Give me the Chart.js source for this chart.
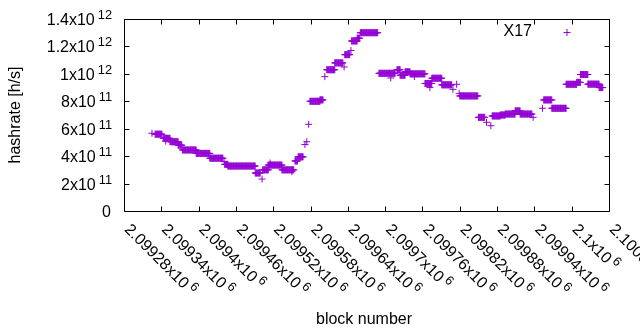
<!DOCTYPE html>
<html>
<head>
<meta charset="utf-8">
<script src="https://cdn.jsdelivr.net/npm/chart.js@4"></script>
<style>
html, body { margin: 0; padding: 0; background: #fff; }
canvas { display: block; }
</style>
</head>
<body>
<canvas id="hashChart" width="640" height="330"></canvas>
<script>
// runs of blocks that share the same hashrate
const runStart = [2099325, 2099330, 2099343, 2099347, 2099354, 2099367, 2099374, 2099396, 2099418, 2099441,
    2099442, 2099447, 2099491, 2099502, 2099503, 2099512, 2099515, 2099534, 2099550, 2099555,
    2099560, 2099571, 2099574, 2099577, 2099579, 2099595, 2099603, 2099606, 2099619, 2099634,
    2099635, 2099645, 2099646, 2099655, 2099660, 2099690, 2099709, 2099719, 2099724, 2099732,
    2099740, 2099747, 2099764, 2099772, 2099775, 2099791, 2099809, 2099815, 2099819, 2099820,
    2099850, 2099863, 2099870, 2099872, 2099885, 2099893, 2099909, 2099917, 2099938, 2099953,
    2099955, 2099968, 2099991, 2100008, 2100014, 2100026, 2100044];
const runEnd = [2099325, 2099341, 2099354, 2099347, 2099367, 2099373, 2099396, 2099418, 2099439, 2099441,
    2099447, 2099491, 2099499, 2099502, 2099512, 2099534, 2099515, 2099553, 2099550, 2099559,
    2099568, 2099571, 2099574, 2099577, 2099595, 2099600, 2099603, 2099619, 2099632, 2099634,
    2099643, 2099645, 2099655, 2099659, 2099688, 2099716, 2099709, 2099724, 2099732, 2099740,
    2099764, 2099747, 2099775, 2099772, 2099791, 2099807, 2099809, 2099815, 2099819, 2099849,
    2099860, 2099863, 2099870, 2099885, 2099893, 2099909, 2099917, 2099936, 2099938, 2099953,
    2099968, 2099991, 2100008, 2100014, 2100026, 2100044, 2100050];
const runHashrate = [5.67e11, 5.6e11, 5.3e11, 5.1e11, 5.05e11, 4.8e11, 4.45e11, 4.2e11, 3.85e11, 3.6e11,
    3.4e11, 3.28e11, 2.77e11, 2.33e11, 3.0e11, 3.35e11, 3.5e11, 3.0e11, 2.87e11, 3.65e11,
    3.95e11, 4.85e11, 5.05e11, 6.32e11, 8.0e11, 8.1e11, 9.8e11, 10.3e11, 10.8e11, 10.5e11,
    11.4e11, 11.7e11, 12.4e11, 12.6e11, 13.0e11, 10.04e11, 9.7e11, 10.3e11, 9.9e11, 10.15e11,
    10.0e11, 9.8e11, 9.3e11, 9.0e11, 9.68e11, 9.2e11, 8.87e11, 9.24e11, 8.58e11, 8.39e11,
    6.83e11, 6.47e11, 6.22e11, 6.93e11, 7.0e11, 7.07e11, 7.3e11, 7.07e11, 6.83e11, 7.49e11,
    8.1e11, 7.49e11, 9.24e11, 9.38e11, 9.95e11, 9.25e11, 9.0e11];

const xTickValues = [2099280, 2099340, 2099400, 2099460, 2099520, 2099580, 2099640,
    2099700, 2099760, 2099820, 2099880, 2099940, 2100000, 2100060];
const xTickLabels = ["2.09928", "2.09934", "2.0994", "2.09946", "2.09952", "2.09958", "2.09964",
    "2.0997", "2.09976", "2.09982", "2.09988", "2.09994", "2.1", "2.10006"];
const xTickPower = "6";

const yTickValues = [0, 2e11, 4e11, 6e11, 8e11, 1e12, 1.2e12, 1.4e12];
const yTickLabels = ["0", "2", "4", "6", "8", "1", "1.2", "1.4"];
const yTickPowers = ["", "11", "11", "11", "11", "12", "12", "12"];

const seriesName = "X17";

// one point per block inside each run
const points = [];
runStart.forEach((start, i) => {
    for (let b = start; b <= runEnd[i]; b++) {
        points.push({ x: b, y: runHashrate[i] });
    }
});

const purple = "#9400d3";
const font = "Liberation Sans, Arial, sans-serif";

function drawPowerLabel(ctx, mantissa, power, x, y, align) {
    ctx.font = "16px " + font;
    const wMain = ctx.measureText(mantissa === "0" ? "0" : mantissa + "x10").width;
    ctx.font = "12.8px " + font;
    const wSup = power ? ctx.measureText(power).width + 3 : 0;
    let left = align === "right" ? x - wMain - wSup : x;
    ctx.textAlign = "left";
    ctx.textBaseline = "alphabetic";
    ctx.font = "16px " + font;
    ctx.fillText(mantissa === "0" ? "0" : mantissa + "x10", left, y + 6);
    if (power) {
        ctx.font = "12.8px " + font;
        ctx.fillText(power, left + wMain + 3, y);
    }
}

const gnuplotFrame = {
    id: "gnuplotFrame",
    afterDraw(chart) {
        const ctx = chart.ctx;
        const a = chart.chartArea;
        const xs = chart.scales.x;
        const ys = chart.scales.y;
        const L = Math.round(a.left) + 0.5, R = Math.round(a.right) + 0.5;
        const T = Math.round(a.top) + 0.5, B = Math.round(a.bottom) + 0.5;
        ctx.save();
        ctx.strokeStyle = "#000";
        ctx.lineWidth = 1;
        ctx.beginPath();
        ctx.rect(L, T, R - L, B - T);
        // tics on all four sides, pointing inwards
        yTickValues.forEach(v => {
            const py = Math.round(ys.getPixelForValue(v)) + 0.5;
            ctx.moveTo(L, py); ctx.lineTo(L + 5, py);
            ctx.moveTo(R, py); ctx.lineTo(R - 5, py);
        });
        xTickValues.forEach(v => {
            const px = Math.round(xs.getPixelForValue(v)) + 0.5;
            ctx.moveTo(px, B); ctx.lineTo(px, B - 5);
            ctx.moveTo(px, T); ctx.lineTo(px, T + 5);
        });
        ctx.stroke();

        ctx.fillStyle = "#000";
        yTickValues.forEach((v, i) => {
            const py = ys.getPixelForValue(v);
            drawPowerLabel(ctx, yTickLabels[i], yTickPowers[i], i === 0 ? 111 : 112, py, "right");
        });
        xTickValues.forEach((v, i) => {
            const px = xs.getPixelForValue(v);
            ctx.save();
            ctx.translate(px + 4, a.bottom + 15);
            ctx.rotate(Math.PI / 4);
            drawPowerLabel(ctx, xTickLabels[i], xTickPower, 0, 0, "left");
            ctx.restore();
        });

        // axis titles
        ctx.font = "16px " + font;
        ctx.textAlign = "center";
        ctx.textBaseline = "middle";
        ctx.fillText("block number", 364, 320);
        ctx.save();
        ctx.translate(16, 115);
        ctx.rotate(-Math.PI / 2);
        ctx.fillText("hashrate [h/s]", 0, 0);
        ctx.restore();

        // key
        ctx.textAlign = "right";
        ctx.fillText(seriesName, 532, 32);
        ctx.strokeStyle = purple;
        ctx.beginPath();
        ctx.moveTo(563.5, 32.5); ctx.lineTo(570.5, 32.5);
        ctx.moveTo(567, 29); ctx.lineTo(567, 36);
        ctx.stroke();
        ctx.restore();
    }
};

new Chart(document.getElementById("hashChart").getContext("2d"), {
    type: "scatter",
    data: {
        datasets: [{
            label: seriesName,
            data: points,
            pointStyle: "cross",
            pointRadius: 3.5,
            pointHoverRadius: 3.5,
            borderColor: purple,
            backgroundColor: purple,
            borderWidth: 1,
            showLine: false
        }]
    },
    options: {
        responsive: false,
        animation: false,
        devicePixelRatio: 1,
        layout: { padding: { left: 124, right: 31, top: 19, bottom: 119 } },
        plugins: { legend: { display: false }, tooltip: { enabled: false } },
        scales: {
            x: { type: "linear", min: 2099280, max: 2100060, display: false },
            y: { min: 0, max: 1.4e12, display: false }
        }
    },
    plugins: [gnuplotFrame]
});
</script>
</body>
</html>
